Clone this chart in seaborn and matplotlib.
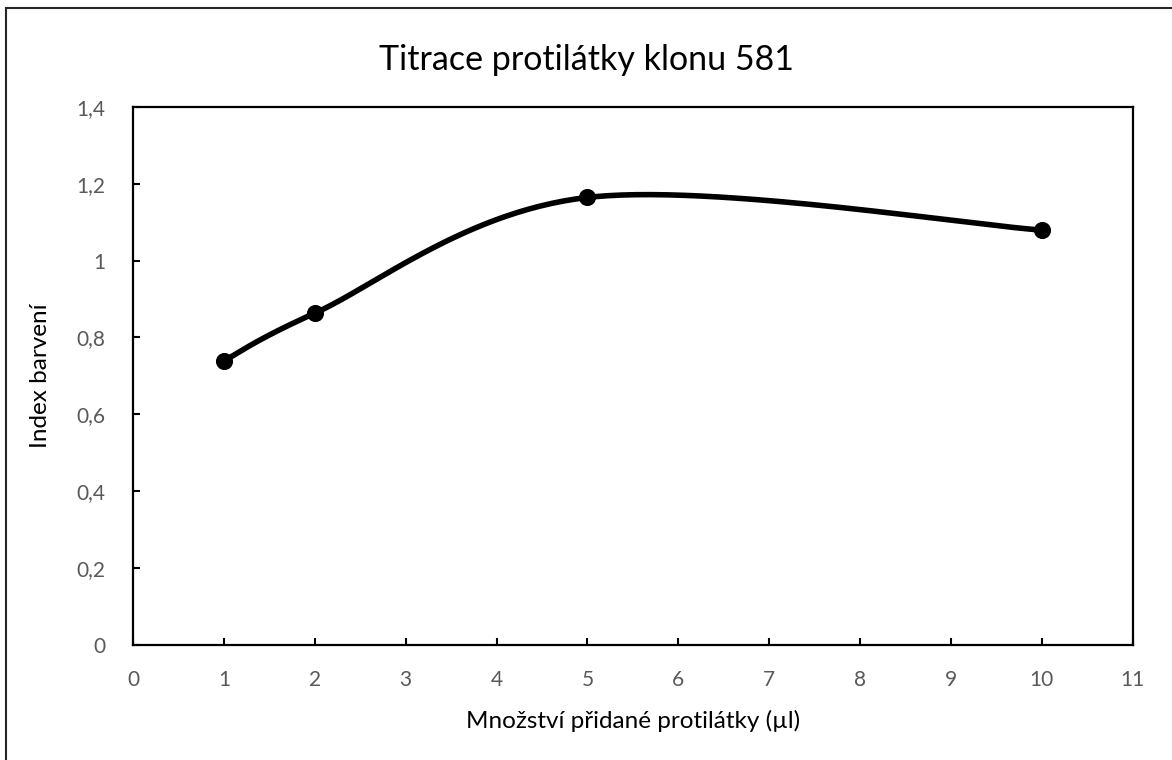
import numpy as np
import pandas as pd
import seaborn as sns
import matplotlib.pyplot as plt
from matplotlib.patches import Rectangle

# data
mnozstvi = [1, 2, 5, 10]
index_barveni = [0.739, 0.863, 1.164, 1.079]
x_ticks = list(range(0, 12))
y_ticks = [0, 0.2, 0.4, 0.6, 0.8, 1.0, 1.2, 1.4]
y_tick_labels = ['0', '0,2', '0,4', '0,6', '0,8', '1', '1,2', '1,4']

df = pd.DataFrame({'x': mnozstvi, 'y': index_barveni})

sns.set_style('white')
plt.rcParams['font.family'] = ['Lato', 'DejaVu Sans']

fig = plt.figure(figsize=(11.72, 7.6), dpi=100)
ax = fig.add_axes([0.1135, 0.1513, 0.853, 0.7083])
ax.set_xlim(0, 11)
ax.set_ylim(0, 1.4)


def smooth_curve(ax, xs, ys, n=60):
    # Excel-like smoothed line: Catmull-Rom bezier computed in display space
    pts = ax.transData.transform(np.column_stack([xs, ys]))
    out = []
    for i in range(len(pts) - 1):
        p0 = pts[i - 1] if i > 0 else pts[i]
        p1 = pts[i]
        p2 = pts[i + 1]
        p3 = pts[i + 2] if i + 2 < len(pts) else pts[i + 1]
        c1 = p1 + (p2 - p0) / 6
        c2 = p2 - (p3 - p1) / 6
        t = np.linspace(0, 1, n)[:, None]
        seg = ((1 - t) ** 3) * p1 + 3 * ((1 - t) ** 2) * t * c1 + 3 * (1 - t) * t ** 2 * c2 + t ** 3 * p2
        out.append(seg if i == 0 else seg[1:])
    out = np.vstack(out)
    return ax.transData.inverted().transform(out)


curve = smooth_curve(ax, df['x'].values, df['y'].values)
curve_df = pd.DataFrame({'x': curve[:, 0], 'y': curve[:, 1]})
sns.lineplot(data=curve_df, x='x', y='y', sort=False, color='black', linewidth=4, ax=ax)
sns.scatterplot(data=df, x='x', y='y', color='black', s=130, edgecolor='black', zorder=5, ax=ax)

ax.set_xticks(x_ticks)
ax.set_xticklabels([str(v) for v in x_ticks])
ax.set_yticks(y_ticks)
ax.set_yticklabels(y_tick_labels)
ax.tick_params(axis='both', direction='in', length=5, width=1.5, colors='black',
               labelcolor='#595959', labelsize=15)
ax.tick_params(axis='y', pad=20)
ax.tick_params(axis='x', pad=18)
ax.tick_params(top=False, right=False, bottom=True, left=True)
for s in ax.spines.values():
    s.set_visible(True)
    s.set_color('black')
    s.set_linewidth(1.6)

ax.set_xlabel('Množství přidané protilátky (µl)', fontsize=17.5, color='black', labelpad=14)
ax.set_ylabel('Index barvení', fontsize=17.5, color='black', labelpad=18)
fig.text(0.5, 0.921, 'Titrace protilátky klonu 581', ha='center', va='center', fontsize=24.5, color='black')

fig.patches.append(Rectangle((0.005, -0.1), 1.2, 0.1 + 0.9895, transform=fig.transFigure,
                             fill=False, edgecolor='#262626', linewidth=1.5))

fig.savefig('out.png', dpi=100)
